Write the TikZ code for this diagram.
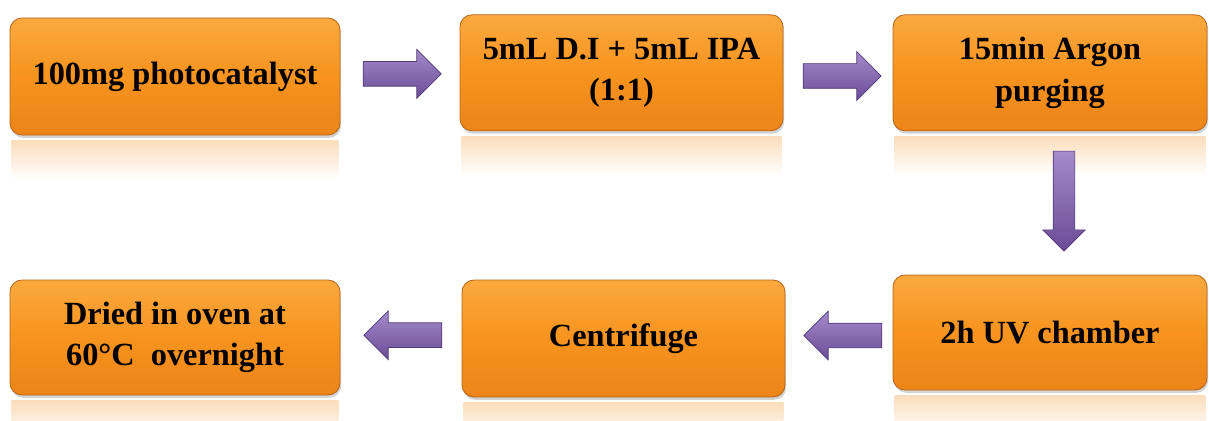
\documentclass[tikz,border=0pt]{standalone}
\usepackage{fontspec}
\setmainfont{Liberation Serif}
\usetikzlibrary{shapes.arrows,shadows,calc}
\definecolor{orgmid}{HTML}{F7931E}
\definecolor{orgtop}{HTML}{FBA93F}
\definecolor{orgbot}{HTML}{EC8419}
\definecolor{orgdark}{HTML}{B8671A}
\definecolor{orgrefl}{HTML}{FBDDBB}
\definecolor{purptop}{HTML}{A48BCB}
\definecolor{purpbot}{HTML}{6A4C97}
\definecolor{purpdark}{HTML}{4E3876}
\begin{document}
\begin{tikzpicture}[
  procbox/.style={rounded corners=0.3cm, draw=orgdark, line width=0.6pt,
    top color=orgtop, bottom color=orgbot, middle color=orgmid,
    align=center, text=black, inner sep=0pt,
    font=\bfseries\fontsize{23}{29.5}\selectfont,
    drop shadow={shadow xshift=0.03cm, shadow yshift=-0.07cm, opacity=0.35}},
  flowarrow/.style={single arrow, draw=purpdark, line width=0.5pt,
    top color=purptop, bottom color=purpbot,
    single arrow head extend=0.3cm, single arrow tip angle=90,
    minimum height=1.95cm, inner xsep=0pt, inner ysep=0.3cm},
  refl/.style={top color=orgrefl, bottom color=white}
]
\useasboundingbox (0,0) rectangle (30.225,10.5);

\node[procbox, minimum width=8.25cm, minimum height=2.925cm] (b1) at (4.375,8.5875) {100mg photocatalyst};
\node[procbox, minimum width=8.075cm, minimum height=2.9cm] (b2) at (15.5375,8.68) {5mL D.I + 5mL IPA\\(1:1)};
\node[procbox, minimum width=7.85cm, minimum height=2.9cm] (b3) at (26.25,8.68) {15min Argon\\purging};
\node[procbox, minimum width=7.85cm, minimum height=2.875cm] (b4) at (26.25,2.1875) {2h UV chamber};
\node[procbox, minimum width=8.075cm, minimum height=2.925cm] (b5) at (15.5875,2.0375) {Centrifuge};
\node[procbox, minimum width=8.25cm, minimum height=2.875cm] (b6) at (4.375,2.0625) {Dried in oven at\\60\textdegree C~~overnight};

% reflections
\foreach \b in {b1,b2,b3,b4,b5,b6}{
  \fill[refl] ($(\b.south west)+(0.05,-0.12)$) rectangle ($(\b.south east)+(-0.05,-1.1)$);
}

% arrows
\node[flowarrow] (a12) at ($(b1.east)!0.5!(b2.west)+(-0.1,0.02)$) {};
\node[flowarrow] (a23) at ($(b2.east)!0.5!(b3.west)+(-0.05,-0.08)$) {};
\node[flowarrow, rotate=-90, minimum height=2.5cm, inner ysep=0.2625cm,
      single arrow head extend=0.26cm] (a34) at ($(b3.south)!0.5!(b4.north)+(0.35,0.18)$) {};
\node[flowarrow, shape border rotate=180] (a45) at ($(b5.east)!0.5!(b4.west)+(0.25,0)$) {};
\node[flowarrow, shape border rotate=180] (a56) at ($(b6.east)!0.5!(b5.west)+(0.2,0.07)$) {};
\end{tikzpicture}
\end{document}
